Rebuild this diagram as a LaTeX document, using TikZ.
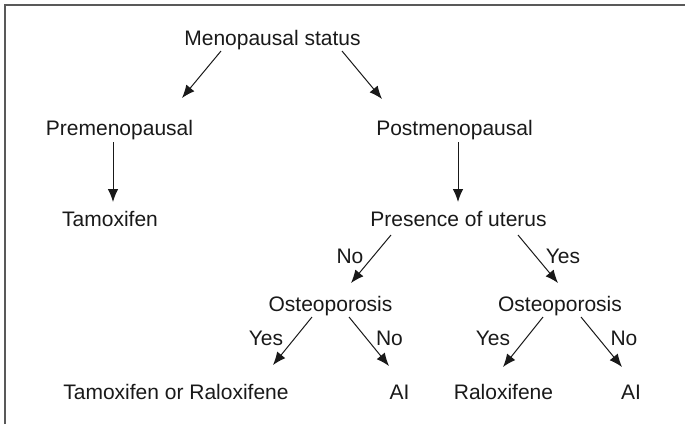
\documentclass[tikz,border=0pt]{standalone}
\usepackage{fontspec}
\setmainfont{Liberation Sans}
\usetikzlibrary{arrows.meta}

\begin{document}
\begin{tikzpicture}[x=1pt,y=-1pt,>={Latex[length=13pt,width=10.5pt]}]
  \tikzstyle{lbl}=[anchor=base,inner sep=0pt,font=\fontsize{21}{24}\selectfont,text=black!90]
  \tikzstyle{arr}=[->,line width=1pt,black!90]
  \useasboundingbox (0,0) rectangle (685,424);
  \draw[line width=2pt,black!65] (5,424) -- (5,5) -- (685,5);
  % tree
  \node[lbl] (meno) at (272.5,45) {Menopausal status};
  \node[lbl] (pre) at (119.5,135) {Premenopausal};
  \node[lbl] (post) at (454.5,135) {Postmenopausal};
  \node[lbl] (tam) at (110,226) {Tamoxifen};
  \node[lbl] (pres) at (458.5,226) {Presence of uterus};
  \node[lbl] (ost1) at (330.5,311) {Osteoporosis};
  \node[lbl] (ost2) at (560,311) {Osteoporosis};
  \node[lbl] (tr) at (176,399) {Tamoxifen or Raloxifene};
  \node[lbl] (ai1) at (399.5,399) {AI};
  \node[lbl] (ral) at (503.5,399) {Raloxifene};
  \node[lbl] (ai2) at (631,399) {AI};
  % answers
  \node[lbl] (no1) at (350,263) {No};
  \node[lbl] (yes1) at (563,263) {Yes};
  \node[lbl] (yes2) at (266,345) {Yes};
  \node[lbl] (no2) at (389.5,345) {No};
  \node[lbl] (yes3) at (493,345) {Yes};
  \node[lbl] (no3) at (624,345) {No};
  % arrows
  \draw[arr] ([shift={(-51.5,6)}]meno.base) -- ([shift={(62.5,-37)}]pre.base);
  \draw[arr] ([shift={(69.5,6)}]meno.base) -- ([shift={(-72.5,-36)}]post.base);
  \draw[arr] ([shift={(-6.5,7)}]pre.base) -- ([shift={(3,-24)}]tam.base);
  \draw[arr] ([shift={(3.5,7)}]post.base) -- ([shift={(-0.5,-24)}]pres.base);
  \draw[arr] ([shift={(-67.5,9)}]pres.base) -- ([shift={(20.5,-28)}]ost1.base);
  \draw[arr] ([shift={(59.5,9)}]pres.base) -- ([shift={(-2,-28)}]ost2.base);
  \draw[arr] ([shift={(-18.5,6)}]ost1.base) -- ([shift={(97,-34)}]tr.base);
  \draw[arr] ([shift={(18.5,6)}]ost1.base) -- ([shift={(-10.5,-33)}]ai1.base);
  \draw[arr] ([shift={(-17,6)}]ost2.base) -- ([shift={(-0.5,-32)}]ral.base);
  \draw[arr] ([shift={(21,6)}]ost2.base) -- ([shift={(-9,-32)}]ai2.base);
\end{tikzpicture}
\end{document}
